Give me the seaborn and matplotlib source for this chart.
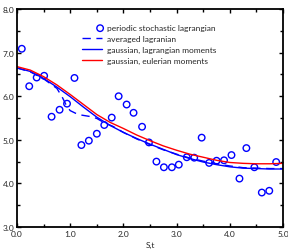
import numpy as np
import pandas as pd
import matplotlib
matplotlib.use("Agg")
import matplotlib.pyplot as plt
import seaborn as sns
from matplotlib.ticker import MultipleLocator, FormatStrFormatter
from matplotlib.collections import PathCollection
from matplotlib.legend_handler import HandlerPathCollection

# ---- data ----
pts_x = [0.09, 0.23, 0.37, 0.51, 0.65, 0.80, 0.94, 1.08, 1.21, 1.35, 1.50, 1.64,
         1.78, 1.91, 2.06, 2.19, 2.35, 2.48, 2.62, 2.76, 2.91, 3.04, 3.19, 3.33,
         3.47, 3.61, 3.75, 3.89, 4.03, 4.18, 4.31, 4.46, 4.60, 4.74, 4.87]
pts_y = [7.09, 6.23, 6.43, 6.47, 5.53, 5.69, 5.83, 6.42, 4.88, 4.98, 5.14, 5.34,
         5.51, 6.00, 5.81, 5.62, 5.30, 4.94, 4.50, 4.37, 4.37, 4.43, 4.60, 4.59,
         5.05, 4.47, 4.52, 4.53, 4.65, 4.11, 4.81, 4.37, 3.79, 3.83, 4.49]

curve_x = [0.0, 0.25, 0.5, 0.75, 1.0, 1.25, 1.5, 1.75, 2.0, 2.25, 2.5, 2.75,
           3.0, 3.25, 3.5, 3.75, 4.0, 4.25, 4.5, 4.75, 5.0]
lag_y = [6.65, 6.57, 6.41, 6.21, 5.99, 5.75, 5.52, 5.33, 5.17, 5.03, 4.90, 4.78,
         4.66, 4.57, 4.49, 4.43, 4.38, 4.35, 4.34, 4.33, 4.33]
eul_y = [6.68, 6.60, 6.45, 6.26, 6.04, 5.81, 5.58, 5.40, 5.26, 5.11, 4.98, 4.86,
         4.76, 4.67, 4.60, 4.53, 4.48, 4.46, 4.45, 4.45, 4.46]

avg_x = [0.0, 0.25, 0.5, 0.75, 0.85, 0.94, 1.0, 1.1, 1.2, 1.3, 1.4, 1.5, 1.6,
         1.7, 1.8, 2.0, 2.25, 2.5, 2.75, 3.0, 3.25, 3.5, 3.75, 4.0, 4.25, 4.5,
         4.75, 5.0]
avg_y = [6.65, 6.56, 6.40, 6.18, 5.98, 5.76, 5.67, 5.61, 5.57, 5.55, 5.53, 5.49,
         5.42, 5.36, 5.31, 5.17, 5.02, 4.89, 4.77, 4.67, 4.58, 4.51, 4.45, 4.40,
         4.36, 4.35, 4.34, 4.34]


# legend marker sits at the right end of the handle, like the original
class RightMarker(HandlerPathCollection):
    def get_xdata(self, legend, xdescent, ydescent, width, height, fontsize):
        x = width - xdescent - 0.25 * fontsize
        return [x], [x]


# ---- plot ----
sns.set_style("ticks")
plt.rcParams['font.family'] = ['Lato', 'DejaVu Sans']

fig = plt.figure(figsize=(2.88, 2.53), dpi=100)
ax = fig.add_axes([0.059, 0.099, 0.924, 0.861])

sns.scatterplot(x=pts_x, y=pts_y, ax=ax, marker='o', s=22, facecolor='none',
                edgecolor='blue', linewidth=1.0, label='periodic stochastic lagrangian')
sns.lineplot(x=avg_x, y=avg_y, ax=ax, color='blue', linewidth=1.0,
             label='averaged lagranian')
ax.lines[-1].set_linestyle((0, (6, 4)))
sns.lineplot(x=curve_x, y=lag_y, ax=ax, color='blue', linewidth=1.0,
             label='gaussian, lagrangian moments')
sns.lineplot(x=curve_x, y=eul_y, ax=ax, color='red', linewidth=1.0,
             label='gaussian, eulerian moments')

ax.set_xlim(0, 5)
ax.set_ylim(3, 8)
ax.xaxis.set_major_locator(MultipleLocator(1.0))
ax.xaxis.set_minor_locator(MultipleLocator(0.5))
ax.yaxis.set_major_locator(MultipleLocator(1.0))
ax.yaxis.set_minor_locator(MultipleLocator(0.5))
ax.xaxis.set_major_formatter(FormatStrFormatter('%.1f'))
ax.yaxis.set_major_formatter(FormatStrFormatter('%.1f'))
ax.tick_params(which='both', direction='in', top=True, right=True,
               labelsize=6, pad=2, width=1.0, color='black')
ax.tick_params(which='major', length=3)
ax.tick_params(which='minor', length=2)
for sp in ax.spines.values():
    sp.set_linewidth(1.3)
    sp.set_color('black')

ax.set_xlabel("S,t", fontsize=6, labelpad=3)
ax.set_ylabel("")

ax.legend(loc='upper left', bbox_to_anchor=(0.245, 0.93), frameon=False,
          fontsize=6, handlelength=2.4, handletextpad=0.6, labelspacing=0.45,
          borderaxespad=0, borderpad=0, scatterpoints=1,
          handler_map={PathCollection: RightMarker()})

fig.savefig("out.png", dpi=100)
